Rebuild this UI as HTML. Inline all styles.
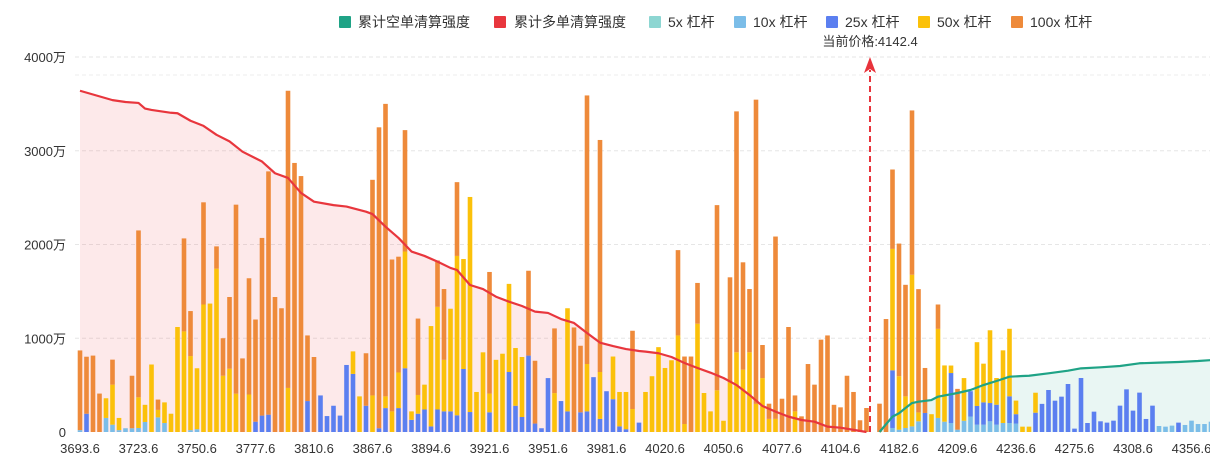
<!DOCTYPE html>
<html><head><meta charset="utf-8">
<style>
html,body{margin:0;padding:0;background:#fff;}
body{width:1210px;height:459px;overflow:hidden;font-family:"Liberation Sans","Noto Sans CJK SC",sans-serif;}
svg text{font-family:"Liberation Sans","Noto Sans CJK SC",sans-serif;}
</style></head>
<body>
<svg id="chart" width="1210" height="459" xmlns="http://www.w3.org/2000/svg">
  <g id="legend">
    <g><rect x="339" y="16" width="12" height="12" rx="1" fill="#1fa386"/><text x="358" y="27" font-size="14" fill="#333">累计空单清算强度</text></g>
    <g><rect x="494" y="16" width="12" height="12" rx="1" fill="#e8363d"/><text x="514" y="27" font-size="14" fill="#333">累计多单清算强度</text></g>
    <g><rect x="649" y="16" width="12" height="12" rx="1" fill="#8dd6d2"/><text x="668" y="27" font-size="14" fill="#333">5x 杠杆</text></g>
    <g><rect x="734" y="16" width="12" height="12" rx="1" fill="#7bbde8"/><text x="753" y="27" font-size="14" fill="#333">10x 杠杆</text></g>
    <g><rect x="826" y="16" width="12" height="12" rx="1" fill="#5b7ff0"/><text x="845" y="27" font-size="14" fill="#333">25x 杠杆</text></g>
    <g><rect x="918" y="16" width="12" height="12" rx="1" fill="#fbc10a"/><text x="937" y="27" font-size="14" fill="#333">50x 杠杆</text></g>
    <g><rect x="1011" y="16" width="12" height="12" rx="1" fill="#ee8a3a"/><text x="1030" y="27" font-size="14" fill="#333">100x 杠杆</text></g>
  </g>
  <g id="grid"></g>
  <g id="areas"></g>
  <g id="bars"></g>
  <g id="lines"></g>
  <g id="axes"></g>
  <g id="marker"></g>
</svg>
<script>
const tickLabels=["3693.6","3723.6","3750.6","3777.6","3810.6","3867.6","3894.6","3921.6","3951.6","3981.6","4020.6","4050.6","4077.6","4104.6","4182.6","4209.6","4236.6","4275.6","4308.6","4356.6"];
const yTicks=[0,1000,2000,3000,4000];
const yTickLabels=["0","1000万","2000万","3000万","4000万"];
const currentPrice="4142.4";
const currentPriceIndex=122;
const v5=[0,0,0,0,0,0,0,0,0,0,
0,0,0,0,0,0,0,0,0,0,
0,0,0,0,0,0,0,0,0,0,
0,0,0,0,0,0,0,0,0,0,
0,0,0,0,0,0,0,0,0,0,
0,0,0,0,0,0,0,0,0,0,
0,0,0,0,0,0,0,0,0,0,
0,0,0,0,0,0,0,0,0,0,
0,0,0,0,0,0,0,0,0,0,
0,0,0,0,0,0,0,0,0,0,
0,0,0,0,0,0,0,0,0,0,
0,0,0,0,0,0,0,0,0,0,
0,0,0,0,0,0,0,0,0,0,
0,0,0,0,0,0,0,0,0,0,
0,0,0,0,0,0,0,0,0,0,
0,0,0,0,0,0,0,0,0,0,
0,0,0,0,0,0,0,0,0,0,
0,0,0,0,0];
const v10=[20,0,0,0,150,78,20,40,40,43,
107,0,156,96,0,0,0,20,30,0,
0,0,0,0,0,0,0,0,0,0,
0,0,0,0,0,0,0,0,0,0,
0,0,0,0,0,0,0,0,0,0,
0,0,0,0,0,0,0,0,0,0,
0,0,0,0,0,0,0,0,0,0,
0,0,0,0,0,0,0,0,0,0,
0,0,0,0,0,0,0,0,0,0,
0,0,0,0,0,0,0,0,0,0,
0,0,0,0,0,0,0,0,0,0,
0,0,0,0,0,0,0,0,0,0,
0,0,0,0,0,43,25,43,60,114,
0,0,150,110,96,25,120,165,78,78,
114,78,96,96,90,0,0,0,0,0,
0,0,0,0,0,0,0,0,0,0,
0,0,0,0,0,0,64,57,68,0,
75,121,85,85,110];
const v25=[0,195,0,0,0,0,0,0,0,0,
0,0,0,0,0,0,0,0,0,0,
0,0,0,0,0,0,0,110,175,185,
0,0,0,0,0,330,0,390,170,280,
175,715,620,0,280,0,40,255,0,255,
680,130,195,240,60,240,220,220,178,672,
213,0,0,210,0,0,640,280,160,815,
90,40,575,0,330,220,0,210,220,585,
140,435,350,60,30,0,100,0,0,0,
0,0,0,0,0,0,0,0,0,0,
0,0,0,0,0,0,0,0,0,0,
0,0,0,0,0,0,0,0,0,0,
0,0,0,0,0,615,0,0,0,0,
203,0,0,0,533,0,0,270,200,238,
195,213,0,285,100,0,0,206,300,448,
334,377,512,36,576,96,217,114,100,121,
281,455,228,420,139,281,0,0,0,100,
0,0,0,0,0];
const v50=[0,0,0,0,210,427,130,0,0,327,
183,720,80,220,195,1120,1073,790,650,1360,
1370,1742,600,675,409,0,400,0,0,0,
0,0,470,0,0,0,0,0,0,0,
0,0,240,380,0,390,0,125,220,380,
1245,90,200,265,1070,1095,550,1095,1700,1173,
2294,427,850,200,770,835,940,616,640,0,
0,0,0,415,0,1100,0,0,505,0,
500,0,455,367,397,245,0,427,595,905,
683,765,1030,85,0,1155,416,220,445,120,
530,850,665,850,300,575,140,140,0,0,
220,0,0,0,0,0,0,0,0,0,
0,0,0,0,0,1295,570,337,1617,95,
0,190,950,600,80,0,455,0,680,413,
776,285,775,720,145,57,57,213,0,0,
0,0,0,0,0,0,0,0,0,0,
0,0,0,0,0,0,0,0,0,0,
0,0,0,0,0];
const v100=[850,608,815,410,0,267,0,0,560,1780,
0,0,110,0,0,0,992,480,0,1090,
0,238,400,765,2016,785,1240,1090,1895,2595,
1440,1320,3170,2870,2730,700,800,0,0,0,
0,0,0,0,560,2300,3210,3120,1620,1235,
1295,0,815,0,0,495,755,0,787,0,
0,0,0,1297,0,0,0,0,0,905,
670,0,0,690,0,0,1115,710,2865,0,
2475,0,0,0,0,835,0,0,0,0,
0,0,910,720,805,435,0,0,1975,0,
1120,2570,1145,675,3245,353,162,1945,355,1120,
170,167,725,505,985,1030,290,263,600,427,
125,256,0,302,1205,847,1415,1190,1753,1315,
480,0,260,0,0,435,0,0,0,0,
0,0,0,0,0,0,0,0,0,0,
0,0,0,0,0,0,0,0,0,0,
0,0,0,0,0,0,0,0,0,0,
0,0,0,0,0];
const longIdx=[0,5,7,9,10,11,14,15,17,19,21,23,25,27,28,30,32,34,36,39,41,44,45,47,49,51,53,55,57,58,60,62,64,66,68,70,72,74,76,78,80,82,84,86,87,89,91,93,95,97,99,101,103,105,107,109,111,113,115,117,121];
const longVals=[3640,3540,3520,3510,3450,3435,3405,3400,3320,3265,3170,3100,2990,2920,2885,2760,2710,2550,2457,2420,2405,2350,2325,2190,2070,1925,1878,1817,1750,1728,1568,1525,1443,1390,1344,1284,1270,1205,1163,1056,953,917,885,864,857,840,800,736,683,633,576,501,395,277,217,164,128,110,57,46,0];
const shortIdx=[123,125,126,127,128,129,131,132,135,137,139,141,143,145,146,149,152,154,157,160,163,166,169,172,174.2];
const shortVals=[0,164,200,256,309,323,341,377,416,448,501,544,590,597,600,626,654,679,690,704,733,740,747,757,768];

const NS="http://www.w3.org/2000/svg";
const X0=80, STEP=6.5, BW=4.6, Y0=432, YK=375/4000;
const xPos=i=>X0+i*STEP;
const yPos=v=>Y0-v*YK;
function mk(tag,attrs,parent){const e=document.createElementNS(NS,tag);for(const k in attrs)e.setAttribute(k,attrs[k]);parent.appendChild(e);return e;}

const grid=document.getElementById('grid');
yTicks.forEach((t,k)=>{
  if(t===0)return;
  const l=mk('line',{x1:75,x2:1210,y1:yPos(t),y2:yPos(t),stroke:'#e6e6e6','stroke-dasharray':'4,3','stroke-width':1},grid);
  
  
});
const gx=mk('line',{x1:75,x2:1210,y1:75,y2:75,stroke:'#eeeeee','stroke-dasharray':'4,3'},grid);



const areas=document.getElementById('areas');
let dl='M'+xPos(longIdx[0])+','+Y0;
longIdx.forEach((ix,k)=>{dl+=' L'+xPos(ix)+','+yPos(longVals[k]);});
dl+=' L'+xPos(longIdx[longIdx.length-1])+','+Y0+' Z';
const la=mk('path',{d:dl,fill:'rgba(240,70,80,0.12)'},areas);


let ds='M'+xPos(shortIdx[0])+','+Y0;
shortIdx.forEach((ix,k)=>{ds+=' L'+xPos(ix)+','+yPos(shortVals[k]);});
ds+=' L'+xPos(shortIdx[shortIdx.length-1])+','+Y0+' Z';
const sa=mk('path',{d:ds,fill:'rgba(40,170,140,0.10)'},areas);



const bars=document.getElementById('bars');
const series=[[v5,'#8dd6d2','5x'],[v10,'#7bbde8','10x'],[v25,'#5b7ff0','25x'],[v50,'#fbc10a','50x'],[v100,'#ee8a3a','100x']];
for(let i=0;i<v100.length;i++){
  let base=0;
  series.forEach(s=>{
    const v=s[0][i];
    if(!v)return;
    const r=mk('rect',{x:xPos(i)-BW/2,y:yPos(base+v),width:BW,height:v*YK,fill:s[1]},bars);
    
    
    base+=v;
  });
}

const lines=document.getElementById('lines');
const lp=mk('polyline',{points:longIdx.map((ix,k)=>xPos(ix)+','+yPos(longVals[k])).join(' '),fill:'none',stroke:'#e8363d','stroke-width':2.2,'stroke-linejoin':'round'},lines);


const sp=mk('polyline',{points:shortIdx.map((ix,k)=>xPos(ix)+','+yPos(shortVals[k])).join(' '),fill:'none',stroke:'#1fa386','stroke-width':2.2,'stroke-linejoin':'round'},lines);



const axes=document.getElementById('axes');
yTicks.forEach((t,k)=>{
  const tx=mk('text',{x:66,y:yPos(t)+5,'text-anchor':'end','font-size':13,fill:'#333'},axes);
  tx.textContent=yTickLabels[k];
  
  
});
tickLabels.forEach((lab,k)=>{
  const tx=mk('text',{x:xPos(k*9),y:453,'text-anchor':'middle','font-size':13,fill:'#333'},axes);
  tx.textContent=lab;
  
  
});

const marker=document.getElementById('marker');
const mx=xPos(currentPriceIndex)-3;
const ml=mk('line',{x1:mx,x2:mx,y1:Y0,y2:70,stroke:'#e8333b','stroke-width':2,'stroke-dasharray':'6,4'},marker);


const mh=mk('path',{d:'M'+mx+',57 L'+(mx+6)+',73 L'+mx+',69 L'+(mx-6)+',73 Z',fill:'#e8333b'},marker);


const mt=mk('text',{x:mx,y:46,'text-anchor':'middle','font-size':13,fill:'#333'},marker);
mt.textContent='当前价格:'+currentPrice;


</script>
</body></html>
